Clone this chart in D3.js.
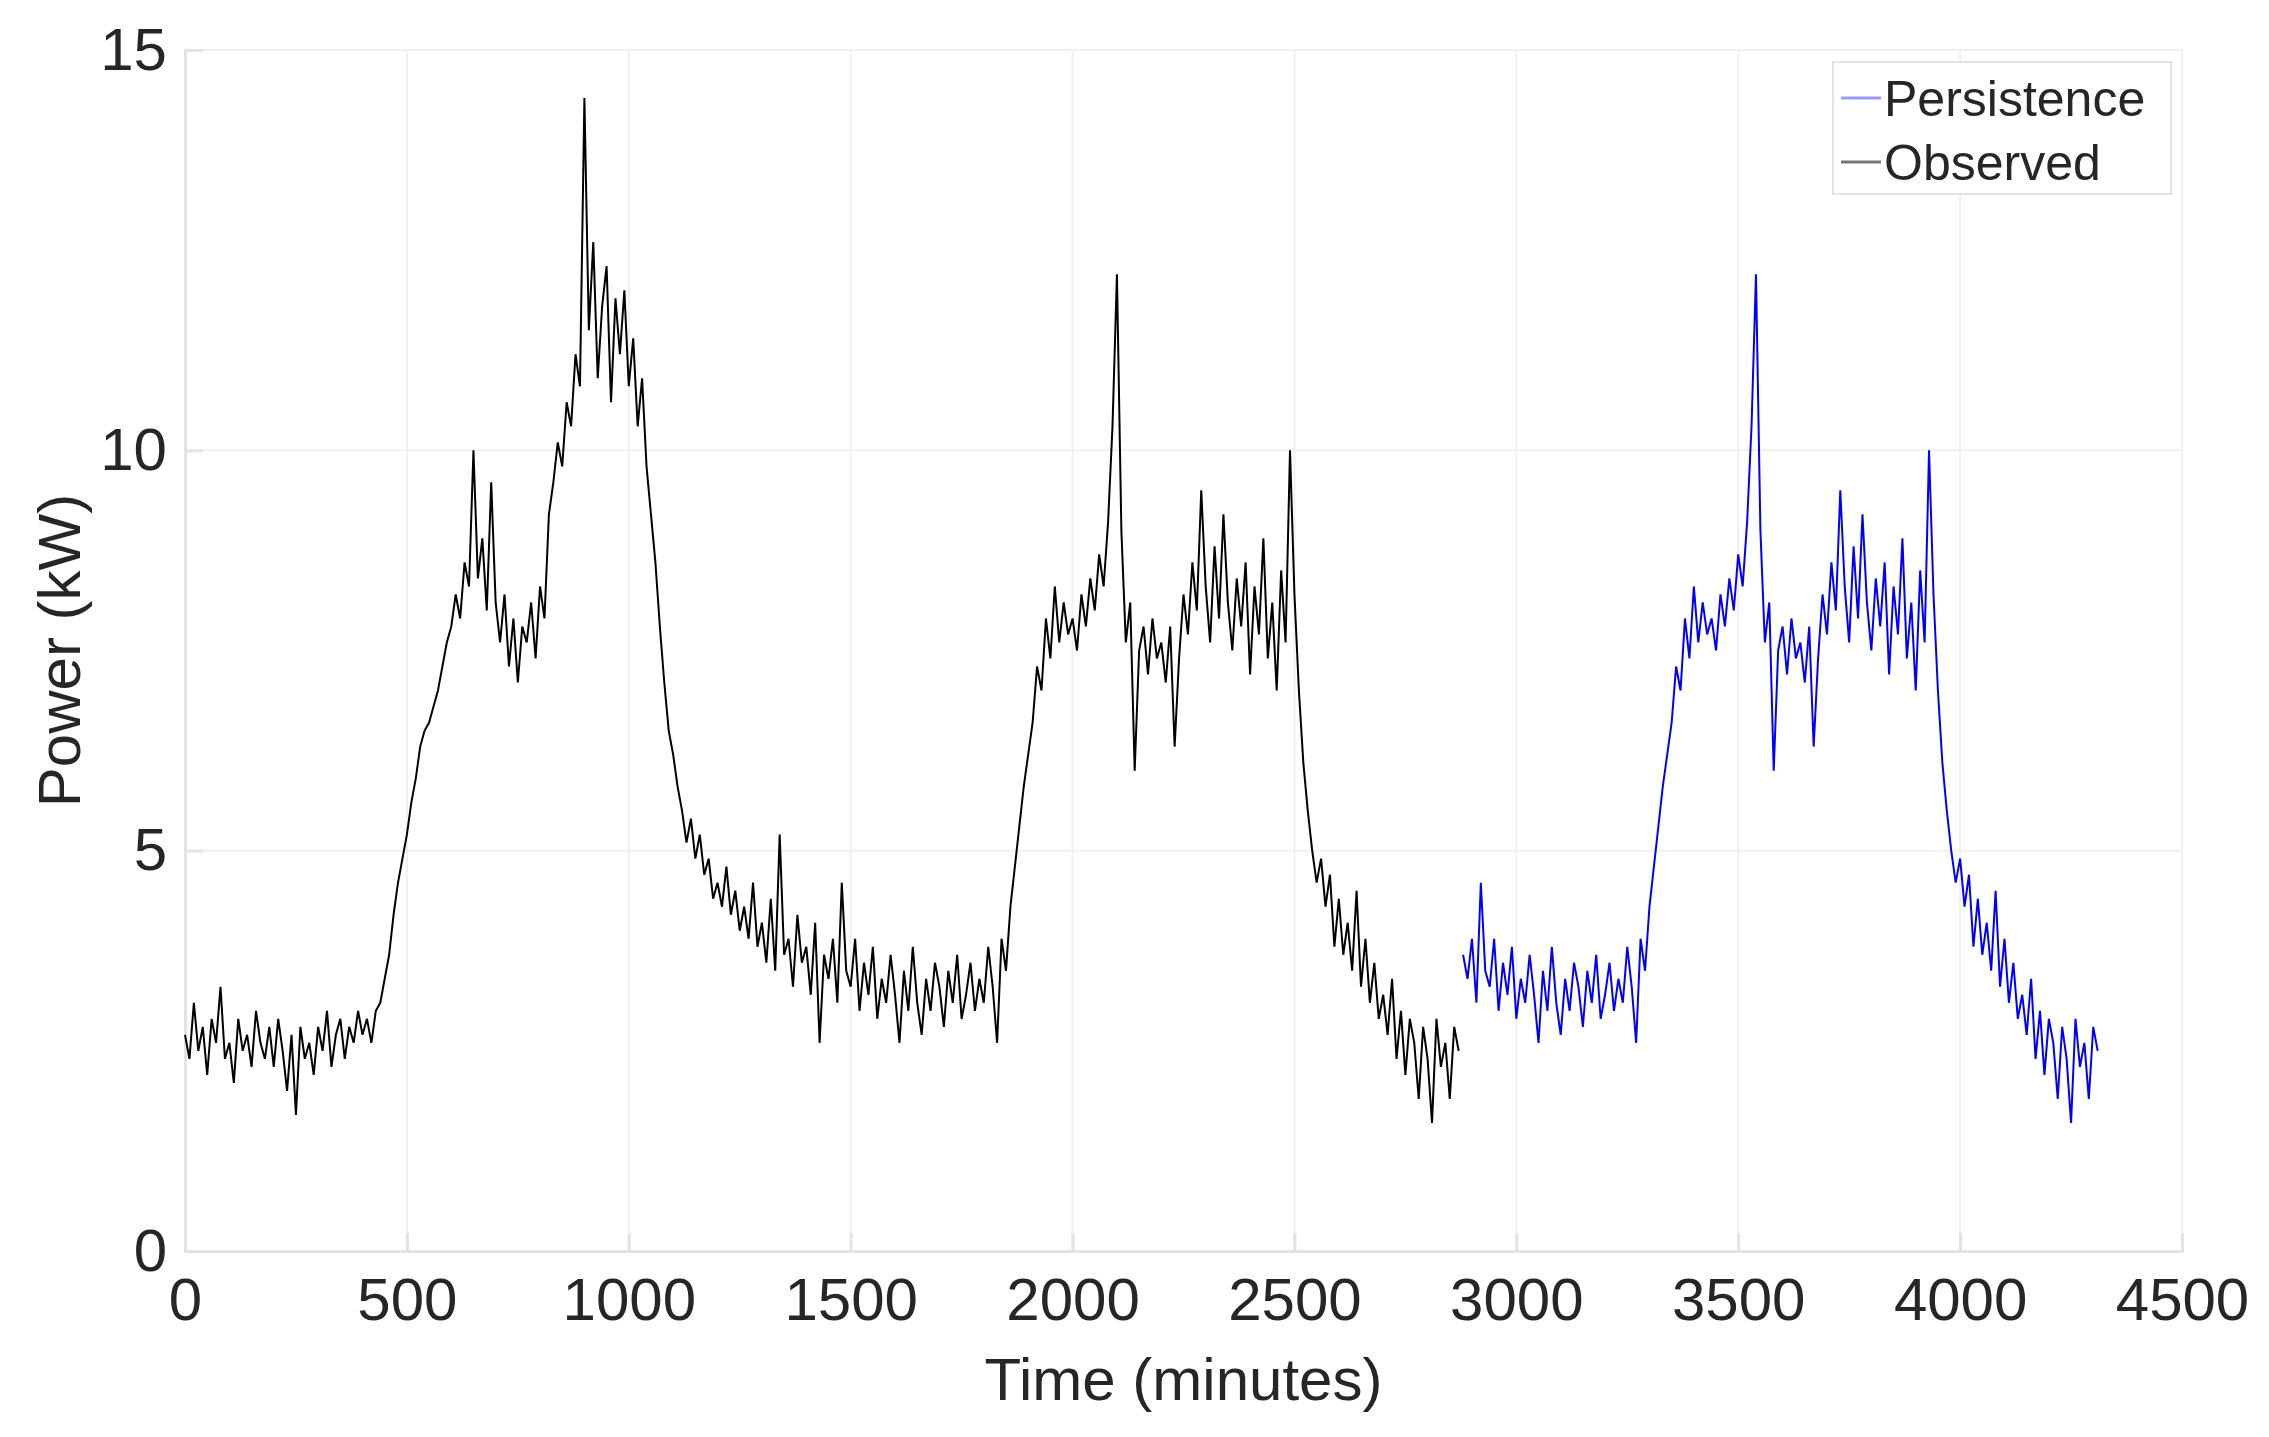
<!DOCTYPE html>
<html><head><meta charset="utf-8">
<script src="https://cdn.jsdelivr.net/npm/d3@7"></script>
<style>body{margin:0;background:#fff}text{font-family:"Liberation Sans",Arial,sans-serif;fill:#262626}</style>
</head><body><svg id="chart" width="2269" height="1437"></svg>
<script>
// observed power, one value every 10 minutes starting at 0
const observed = [
  2.7,2.4,3.1,2.5,2.8,2.2,2.9,2.6,3.3,2.4,
  2.6,2.1,2.9,2.5,2.7,2.3,3.0,2.6,2.4,2.8,
  2.3,2.9,2.5,2.0,2.7,1.7,2.8,2.4,2.6,2.2,
  2.8,2.5,3.0,2.3,2.7,2.9,2.4,2.8,2.6,3.0,
  2.7,2.9,2.6,3.0,3.1,3.4,3.7,4.2,4.6,4.9,
  5.2,5.6,5.9,6.3,6.5,6.6,6.8,7.0,7.3,7.6,
  7.8,8.2,7.9,8.6,8.3,10.0,8.4,8.9,8.0,9.6,
  8.1,7.6,8.2,7.3,7.9,7.1,7.8,7.6,8.1,7.4,
  8.3,7.9,9.2,9.6,10.1,9.8,10.6,10.3,11.2,10.8,
  14.4,11.5,12.6,10.9,11.8,12.3,10.6,11.9,11.2,12.0,
  10.8,11.4,10.3,10.9,9.8,9.2,8.6,7.8,7.1,6.5,
  6.2,5.8,5.5,5.1,5.4,4.9,5.2,4.7,4.9,4.4,
  4.6,4.3,4.8,4.2,4.5,4.0,4.3,3.9,4.6,3.8,
  4.1,3.6,4.4,3.5,5.2,3.7,3.9,3.3,4.2,3.6,
  3.8,3.2,4.1,2.6,3.7,3.4,3.9,3.1,4.6,3.5,
  3.3,3.9,3.0,3.6,3.2,3.8,2.9,3.4,3.1,3.7,
  3.2,2.6,3.5,3.0,3.8,3.1,2.7,3.4,3.0,3.6,
  3.3,2.8,3.5,3.1,3.7,2.9,3.2,3.6,3.0,3.4,
  3.1,3.8,3.3,2.6,3.9,3.5,4.3,4.8,5.3,5.8,
  6.2,6.6,7.3,7.0,7.9,7.4,8.3,7.6,8.1,7.7,
  7.9,7.5,8.2,7.8,8.4,8.0,8.7,8.3,9.1,10.3,
  12.2,9.0,7.6,8.1,6.0,7.5,7.8,7.2,7.9,7.4,
  7.6,7.1,7.8,6.3,7.4,8.2,7.7,8.6,8.0,9.5,
  8.3,7.6,8.8,7.9,9.2,8.1,7.5,8.4,7.8,8.6,
  7.2,8.3,7.7,8.9,7.4,8.1,7.0,8.5,7.6,10.0,
  8.2,7.0,6.1,5.5,5.0,4.6,4.9,4.3,4.7,3.8,
  4.4,3.7,4.1,3.5,4.5,3.3,3.9,3.1,3.6,2.9,
  3.2,2.7,3.4,2.4,3.0,2.2,2.9,2.6,1.9,2.8,
  2.4,1.6,2.9,2.3,2.6,1.9,2.8,2.5
];
const step = 10;
// persistence forecast: yesterday's observation repeated, starts at 2880
const persistStart = 2880;
const persistence = observed.slice(144);
const xTicks = [0,500,1000,1500,2000,2500,3000,3500,4000,4500];
const yTicks = [0,5,10,15];

const svg = d3.select('#chart');
const L = 185, R = 2182, T = 50, B = 1251;
const x = d3.scaleLinear().domain([0,4500]).range([L,R]);
const y = d3.scaleLinear().domain([0,15]).range([B,T]);

// grid
svg.append('g').selectAll('line').data(xTicks).enter().append('line')
  .attr('x1',d=>x(d)).attr('x2',d=>x(d)).attr('y1',T).attr('y2',B)
  .attr('stroke','#f0f0f0').attr('stroke-width',2);
svg.append('g').selectAll('line').data(yTicks).enter().append('line')
  .attr('y1',d=>y(d)).attr('y2',d=>y(d)).attr('x1',L).attr('x2',R)
  .attr('stroke','#f0f0f0').attr('stroke-width',2);

const xAxis = svg.append('g').attr('transform','translate(0,'+B+')')
  .call(d3.axisBottom(x).tickValues(xTicks).tickFormat(d3.format('d')).tickSize(-18).tickPadding(26));
const yAxis = svg.append('g').attr('transform','translate('+L+',0)')
  .call(d3.axisLeft(y).tickValues(yTicks).tickFormat(d3.format('d')).tickSize(-18).tickPadding(18));
[xAxis,yAxis].forEach(a=>{
  a.select('.domain').attr('stroke','#e3e3e3').attr('stroke-width',3);
  a.selectAll('.tick line').attr('stroke','#e3e3e3').attr('stroke-width',3);
  a.selectAll('text').attr('font-size',60).style('fill','#262626');
});

const line = d3.line().x(d=>x(d[0])).y(d=>y(d[1]));
svg.append('path').datum(observed.map((v,i)=>[i*step,v]))
  .attr('d',line).attr('fill','none').attr('stroke','#000').attr('stroke-width',2);
svg.append('path').datum(persistence.map((v,i)=>[persistStart+i*step,v]))
  .attr('d',line).attr('fill','none').attr('stroke','#0000ff').attr('stroke-width',2);

svg.append('text').attr('x',(L+R)/2).attr('y',1400).attr('text-anchor','middle')
  .attr('font-size',60).text('Time (minutes)');
svg.append('text').attr('transform','translate(80,'+((T+B)/2)+') rotate(-90)')
  .attr('text-anchor','middle').attr('font-size',60).text('Power (kW)');

// legend
const lg = svg.append('g');
lg.append('rect').attr('x',1833).attr('y',62).attr('width',338).attr('height',132)
  .attr('fill','#fff').attr('stroke','#e3e3e3').attr('stroke-width',2);
const items = [['Persistence','#9a9aff'],['Observed','#777']];
items.forEach((it,i)=>{
  const yy = 98 + i*64;
  lg.append('line').attr('x1',1841).attr('x2',1881).attr('y1',yy).attr('y2',yy)
    .attr('stroke',it[1]).attr('stroke-width',3);
  lg.append('text').attr('x',1884).attr('y',yy+18).attr('font-size',50).text(it[0]);
});
</script></body></html>
